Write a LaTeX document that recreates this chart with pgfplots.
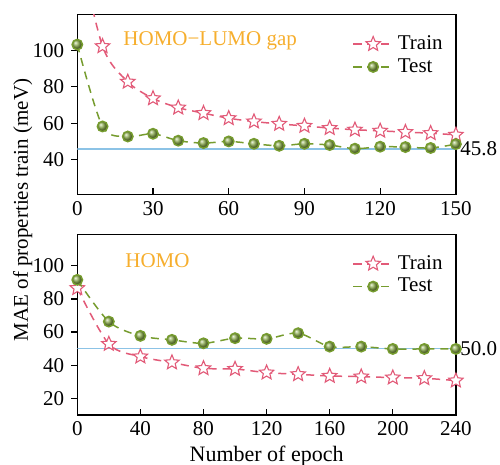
\documentclass[border=0pt]{standalone}
\usepackage{fontspec}
\setmainfont{Liberation Serif}
\usepackage{pgfplots}
\pgfplotsset{compat=1.18}
\usetikzlibrary{calc}
\definecolor{trainc}{RGB}{226,90,120}
\definecolor{testc}{RGB}{118,156,46}
\definecolor{titlec}{RGB}{246,174,45}
\definecolor{refc}{RGB}{140,195,230}

% open five-pointed star
\pgfdeclareplotmark{ostar}{%
  \pgfpathmoveto{\pgfpointpolar{90}{\pgfplotmarksize}}%
  \pgfpathlineto{\pgfpointpolar{126}{0.45\pgfplotmarksize}}%
  \pgfpathlineto{\pgfpointpolar{162}{\pgfplotmarksize}}%
  \pgfpathlineto{\pgfpointpolar{198}{0.45\pgfplotmarksize}}%
  \pgfpathlineto{\pgfpointpolar{234}{\pgfplotmarksize}}%
  \pgfpathlineto{\pgfpointpolar{270}{0.45\pgfplotmarksize}}%
  \pgfpathlineto{\pgfpointpolar{306}{\pgfplotmarksize}}%
  \pgfpathlineto{\pgfpointpolar{342}{0.45\pgfplotmarksize}}%
  \pgfpathlineto{\pgfpointpolar{18}{\pgfplotmarksize}}%
  \pgfpathlineto{\pgfpointpolar{54}{0.45\pgfplotmarksize}}%
  \pgfpathclose
  \pgfusepathqfillstroke}

\pgfplotsset{
  panel/.style={
    scale only axis, width=189.3pt,
    xmin=0,
    axis line style={line width=0.7pt},
    tick style={black, line width=0.6pt},
    xtick pos=bottom, ytick pos=left,
    xtick align=inside, ytick align=outside,
    major tick length=3pt,
    tick label style={font=\fontsize{10.5}{12}\selectfont},
    /pgf/number format/assume math mode=true,
    clip mode=individual,
    legend style={draw=none, fill=none, font=\fontsize{10.5}{12}\selectfont,
      at={(0.71,0.93)}, anchor=north west, row sep=-1pt},
    legend cell align=left,
    legend image code/.code={
      \draw[mark repeat=2, mark phase=2] plot coordinates {(0cm,0cm) (0.35cm,0cm) (0.7cm,0cm)};
    },
  },
  trainplot/.style={trainc, line width=0.75pt, dash pattern=on 4pt off 3pt, smooth,
    mark=ostar, mark size=3.8pt, mark options={solid, fill=white, draw=trainc, line width=0.55pt}},
  testplot/.style={testc, line width=0.75pt, dash pattern=on 4pt off 3pt, smooth,
    mark=ball, mark size=2.6pt, mark options={solid, ball color=testc!85!white}},
}

\begin{document}
\begin{tikzpicture}
\begin{axis}[panel, name=top, height=89.8pt,
  xmax=150, ymin=21, ymax=119.5,
  xtick={0,30,60,90,120,150}, ytick={40,60,80,100},
]
\addplot[refc, line width=0.6pt, forget plot] coordinates {(0,45.8) (150,45.8)};
\addplot[trainplot] coordinates {
  (0,160) (10,102.2) (20,82.7) (30,73.6) (40,68.5) (50,65.5) (60,62.7) (70,60.9)
  (80,59.6) (90,58.5) (100,57.3) (110,56.4) (120,55.8) (130,55.1) (140,54.5) (150,53.6)
};
\addlegendentry{Train}
\addplot[testplot] coordinates {
  (0,103.1) (10,58.2) (20,52.7) (30,54.2) (40,50.4) (50,49.1) (60,50.0) (70,48.7)
  (80,47.6) (90,48.7) (100,48.0) (110,46.0) (120,47.1) (130,46.9) (140,46.4) (150,48.5)
};
\addlegendentry{Test}
\node[anchor=west, text=titlec, font=\fontsize{10.5}{12}\selectfont] at (axis cs:15.5,105) {HOMO−LUMO gap};
\node[anchor=west, font=\fontsize{10.5}{12}\selectfont, inner xsep=2pt] at (axis cs:150,45.8) {45.8};
\end{axis}

\begin{axis}[panel, name=bot, height=90.3pt,
  at={($(top.south west)+(0,-20pt)$)}, anchor=north west,
  xmax=240, ymin=10, ymax=119,
  xtick={0,40,80,120,160,200,240}, ytick={20,40,60,80,100},
  xlabel={Number of epoch},
  xlabel style={font=\fontsize{11}{13}\selectfont, yshift=2pt},
]
\addplot[refc, line width=0.6pt, forget plot] coordinates {(0,50.0) (240,50.0)};
\addplot[trainplot] coordinates {
  (0,86.5) (20,52.8) (40,45.2) (60,41.6) (80,38.1) (100,37.7) (120,35.5)
  (140,34.5) (160,33.5) (180,33.1) (200,32.5) (220,32.1) (240,30.7)
};
\addlegendentry{Train}
\addplot[testplot] coordinates {
  (0,91.5) (20,66.3) (40,57.7) (60,55.3) (80,53.2) (100,56.3) (120,55.9)
  (140,59.3) (160,51.2) (180,51.2) (200,49.8) (220,49.8) (240,49.8)
};
\addlegendentry{Test}
\node[anchor=west, text=titlec, font=\fontsize{10.5}{12}\selectfont] at (axis cs:26,103) {HOMO};
\node[anchor=west, font=\fontsize{10.5}{12}\selectfont, inner xsep=2pt] at (axis cs:240,50.0) {50.0};
\end{axis}

\node[rotate=90, font=\fontsize{10.5}{12}\selectfont] at ($(top.north west)+(-27.3pt,-97.65pt)$) {MAE of properties train (meV)};

\pgfresetboundingbox
\path ($(top.north west)+(-38.65pt,7.35pt)$) rectangle ++(250pt,-232.5pt);
\end{tikzpicture}
\end{document}
